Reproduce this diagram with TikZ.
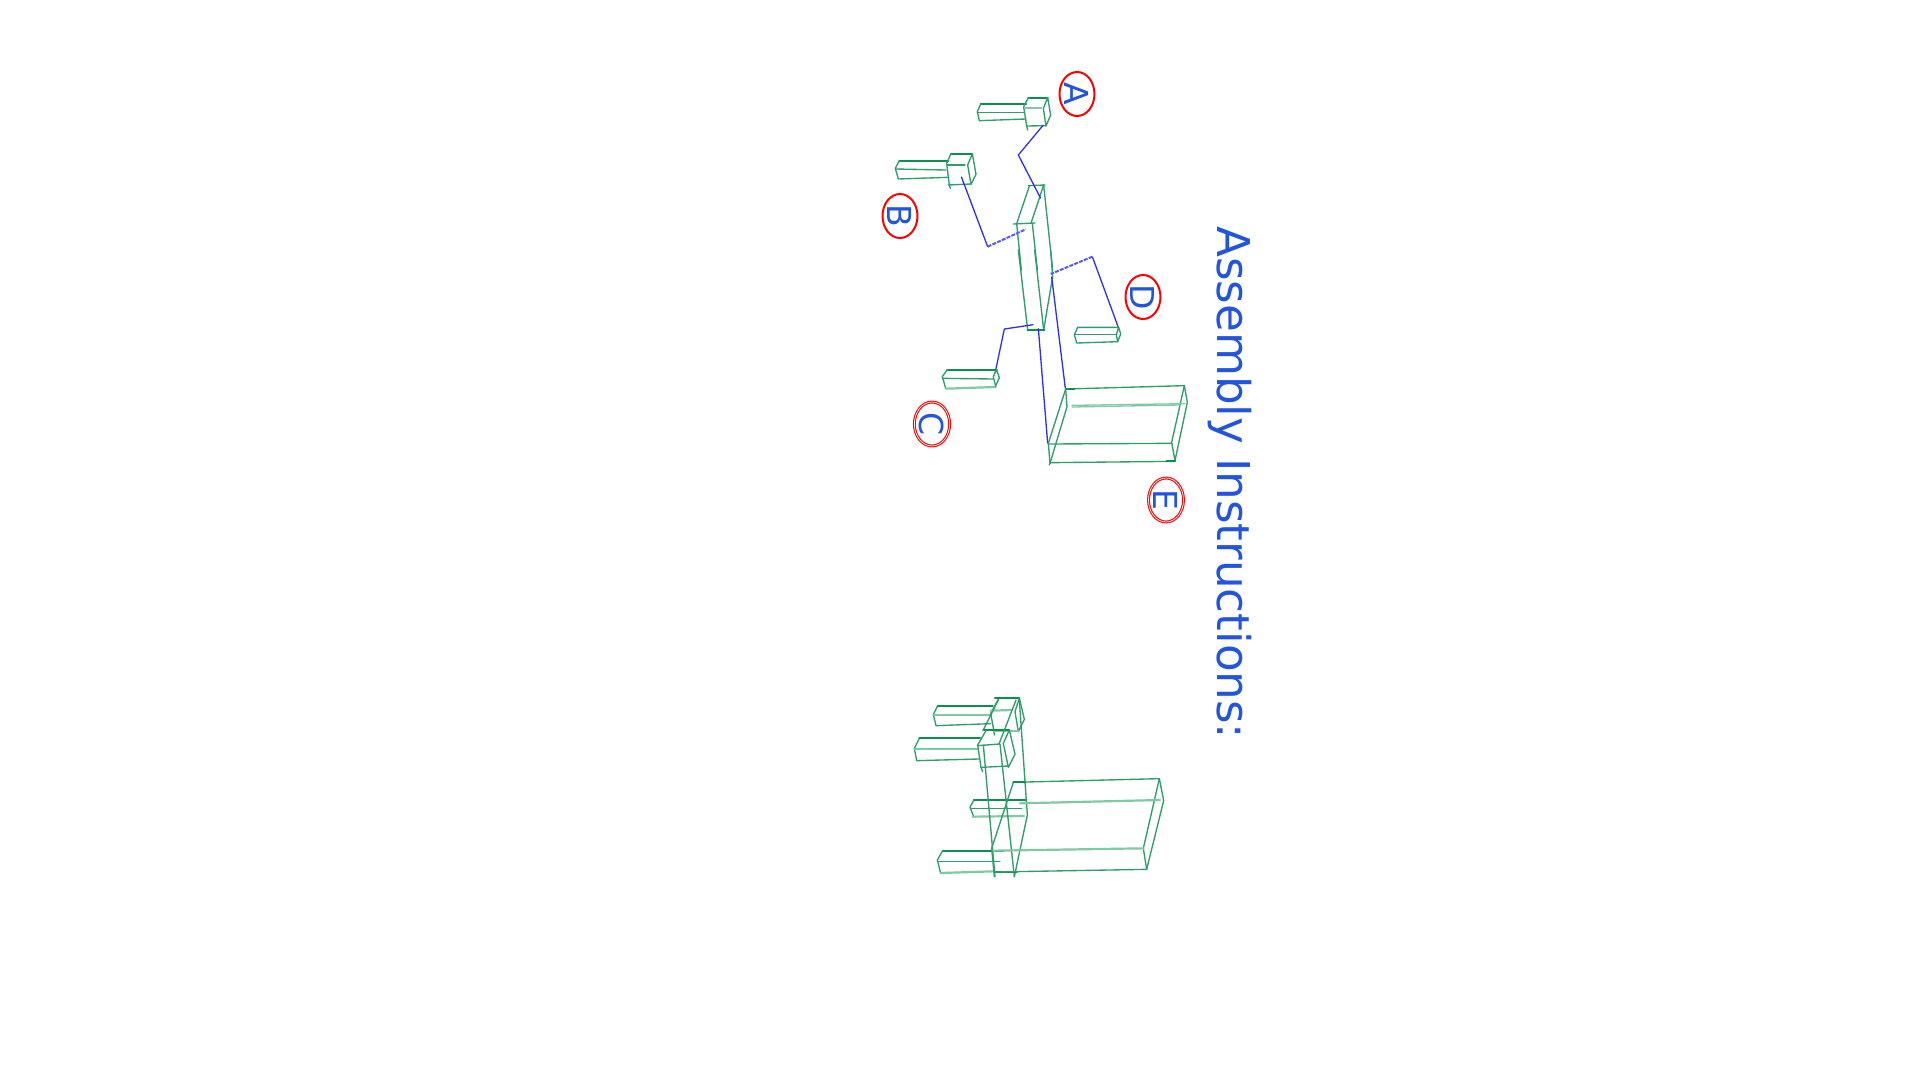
\documentclass[tikz,border=0pt]{standalone}
\usepackage{fontspec}
\setmainfont{DejaVu Sans}
\definecolor{gr}{HTML}{2F9E6A}
\definecolor{grd}{HTML}{0B8F50}
\definecolor{grl}{HTML}{7FC9A5}
\definecolor{bl}{HTML}{2E2EEE}
\definecolor{bld}{HTML}{5A5AFA}
\definecolor{txt}{HTML}{2255DD}
\tikzset{
 gline/.style={draw=gr,line width=1.35pt,line cap=round,line join=round},
 gthick/.style={draw=grd,line width=2.3pt,line cap=round},
 glight/.style={draw=grl,line width=2.2pt,line cap=round},
 gsoft/.style={draw=grl,line width=1.3pt,line cap=round},
 leader/.style={draw=bl,line width=1.3pt,line join=round},
 leaderdash/.style={draw=bld,line width=2pt,dash pattern=on 4pt off 1.2pt},
 callout/.style={draw=red,line width=2pt,ellipse,minimum width=44pt,minimum height=35pt,inner sep=0pt,text=txt,font=\fontsize{33}{33}\selectfont},
 zoomA/.style={shift={(860,50)},x=0.33333pt,y=-0.33333pt},
 zoomB/.style={shift={(880,250)},x=0.33333pt,y=-0.33333pt},
 zoomC/.style={shift={(900,680)},x=0.33333pt,y=-0.33333pt},
}
\usetikzlibrary{shapes.geometric}
\begin{document}
\begin{tikzpicture}[x=1pt,y=-1pt]
\useasboundingbox[fill=white] (0,0) rectangle (1920,1080);
\node[rotate=-90,text=txt,font=\fontsize{45.2}{45.2}\selectfont,inner sep=0pt,anchor=base west] (title) at (1217,226) {Assembly Instructions:};
% labels
\node[callout,rotate=-90] (lA) at (1077,94) {A};
\node[callout,rotate=-90] (lB) at (900,216) {B};
\node[callout,rotate=-90,double=white,double distance=0.7pt,line width=1.1pt] (lC) at (932,424) {C};
\node[callout,rotate=-90] (lD) at (1143,297) {D};
\node[callout,rotate=-90,double=white,double distance=0.7pt,line width=1.1pt] (lE) at (1166,500) {E};
\begin{scope}[zoomA]
% piece A
\draw[gthick] (362,162)--(498,162);
\draw[gline] (362,162)--(352,185)--(358,212)--(497,207);
\draw[gline] (352,187)--(492,187);
\draw[gthick] (505,143)--(563,143);
\draw[gline] (505,143)--(491,170)--(500,228)--(503,240);
\draw[gline] (500,228)--(558,227);
\draw[glight] (495,175)--(543,175);
\draw[gline] (563,143)--(572,195)--(558,228)--(550,175)--(563,143);
% piece B
\draw[gthick] (118,332)--(265,332);
\draw[gline] (118,332)--(106,355)--(115,387)--(262,382);
\draw[gline] (106,357)--(258,360);
\draw[gthick] (273,311)--(337,311);
\draw[gline] (273,311)--(260,340)--(268,405)--(271,415);
\draw[gline] (262,345)--(315,345);
\draw[gline] (265,405)--(333,402);
\draw[gline] (337,311)--(348,373)--(333,403)--(323,345)--(337,311);
% beam top
\draw[gline] (505,407)--(555,405);
\draw[gline] (508,408)--(470,521);
\draw[gline] (551,405)--(513,520);
\draw[gline] (460,522)--(525,519);
% leaders
\draw[leader] (550,225)--(475,315)--(542,445);
\draw[leader] (304,380)--(383,590);
\draw[leaderdash] (383,590)--(497,538);
\draw[gline] (470,521)--(484,660);
\draw[gline] (517,520)--(532,660);
\draw[gline] (551,405)--(578,660);
\end{scope}
\begin{scope}[zoomB]
\draw[gline] (415,0)--(443,240);
\draw[gline] (464,0)--(491,240);
\draw[gline] (512,0)--(518,80)--(491,240);
\draw[gthick] (443,240)--(493,240);
% leaders
\draw[leader] (716,235)--(637,20);
\draw[leaderdash] (637,20)--(512,72);
\draw[leader] (515,80)--(556,415);
\draw[leader] (475,235)--(503,580);
\draw[leader] (345,370)--(373,237)--(460,224);
% seat
\draw[gline] (557,417)--(913,407)--(922,457)--(885,632);
\draw[gline] (913,407)--(875,577)--(885,632);
\draw[gthick] (557,416)--(583,416);
\draw[gline] (557,417)--(505,580)--(510,640)--(508,645);
\draw[gline] (557,417)--(561,470)--(510,640);
\draw[gline] (505,582)--(875,580);
\draw[gline] (510,638)--(885,634);
\draw[gthick] (860,634)--(885,634);
\draw[gsoft] (576,466)--(915,461);
\draw[gsoft] (576,471)--(900,465);
% piece C
\draw[gthick] (202,359)--(350,359);
\draw[gline] (202,359)--(187,380)--(197,415);
\draw[gline] (187,385)--(340,387);
\draw[glight] (197,416)--(347,411);
\draw[gline] (350,359)--(358,383)--(347,408)--(340,380)--(350,359);
% piece D
\draw[gline] (593,232)--(716,232)--(722,252)--(713,275)--(709,254)--(716,232);
\draw[gline] (593,232)--(583,254)--(590,279)--(713,275);
\draw[gline] (584,254)--(710,254);
\end{scope}
\begin{scope}[zoomC]
% shafts
\draw[gthick] (113,77)--(278,77);
\draw[gline] (113,77)--(100,103)--(108,137)--(272,131);
\draw[glight] (102,105)--(270,105);
\draw[gthick] (58,175)--(240,175);
\draw[gline] (58,175)--(43,205)--(50,242)--(236,237);
\draw[glight] (45,208)--(232,208);
\draw[gthick] (222,359)--(378,359);
\draw[gline] (222,359)--(210,382)--(222,412);
\draw[gline] (212,386)--(365,386);
\draw[glight] (218,410)--(372,408);
\draw[gthick] (128,512)--(310,512);
\draw[gline] (128,512)--(112,540)--(122,580);
\draw[gline] (114,545)--(300,545);
\draw[glight] (122,579)--(280,574);
% heads
\draw[gthick] (285,54)--(358,54);
\draw[gline] (295,58)--(272,100)--(282,155)--(283,165);
\draw[glight] (272,92)--(335,90);
\draw[gline] (358,54)--(373,118)--(355,155)--(345,95)--(358,54);
\draw[glight] (280,152)--(355,152);
\draw[gthick] (250,150)--(328,150);
\draw[gline] (258,152)--(233,195)--(243,262)--(248,275);
\draw[gline] (233,197)--(298,192);
\draw[gline] (328,150)--(345,222)--(325,262)--(310,190)--(328,150);
\draw[gline] (243,262)--(325,258);
% beam
\draw[gline] (358,60)--(382,405)--(343,590);
\draw[gline] (250,195)--(285,590);
\draw[gline] (300,192)--(343,590);
\draw[gline] (295,60)--(250,150);
\draw[gline] (348,60)--(297,192);
\draw[gthick] (285,576)--(350,576);
% seat
\draw[gline] (340,307)--(778,296)--(791,362)--(740,568);
\draw[gline] (778,296)--(730,505)--(740,568);
\draw[gthick] (340,307)--(375,307);
\draw[gline] (340,307)--(275,505)--(283,590);
\draw[glight] (280,512)--(730,505);
\draw[gline] (285,576)--(740,568);
\draw[glight] (360,370)--(780,360);
\end{scope}
\end{tikzpicture}
\end{document}
